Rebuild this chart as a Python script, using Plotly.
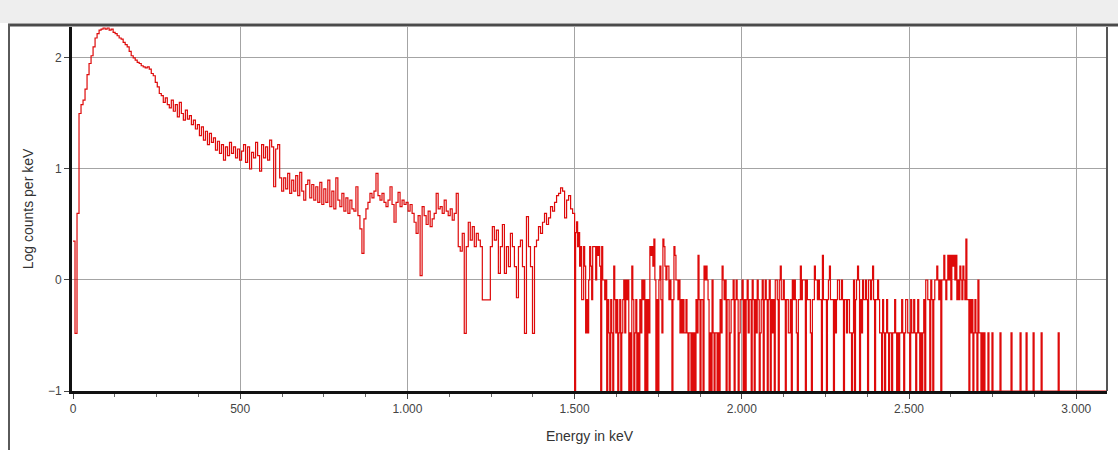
import math
import plotly.graph_objects as go

# ---------------- data ----------------
# Low-energy part: log10(counts per keV), one value every 6 keV from 0 keV
LOW_STEP_KEV = 6
LOW_LOG = [
    0.35, -0.48, 0.6, 1.5, 1.58, 1.62, 1.72, 1.85, 1.95, 2.02,
    2.1, 2.18, 2.22, 2.25, 2.26, 2.27, 2.26, 2.27, 2.25, 2.26,
    2.23, 2.22, 2.2, 2.18, 2.17, 2.14, 2.12, 2.1, 2.06, 2.02,
    2.0, 1.98, 1.96, 1.95, 1.93, 1.92, 1.91, 1.92, 1.9, 1.86,
    1.84, 1.78, 1.74, 1.68, 1.66, 1.6, 1.64, 1.58, 1.55, 1.62,
    1.52, 1.58, 1.47, 1.6, 1.5, 1.44, 1.53, 1.45, 1.48, 1.4,
    1.44, 1.36, 1.4, 1.3, 1.38, 1.26, 1.34, 1.22, 1.32, 1.24,
    1.28, 1.17, 1.25, 1.14, 1.22, 1.08, 1.2, 1.12, 1.24, 1.14,
    1.2, 1.1, 1.18, 1.08, 1.16, 1.22, 1.06, 1.2, 1.0, 1.15,
    1.1, 1.24, 1.12, 0.98, 1.22, 1.1, 1.2, 1.08, 1.26, 1.2,
    0.84, 1.18, 1.22, 0.92, 0.8, 0.92, 0.82, 0.96, 0.78, 0.9,
    0.8, 0.94, 0.76, 0.97, 0.8, 0.72, 0.86, 0.9, 0.74, 0.86,
    0.72, 0.84, 0.7, 0.88, 0.68, 0.82, 0.7, 0.9, 0.66, 0.8,
    0.64, 0.92, 0.72, 0.66, 0.78, 0.62, 0.74, 0.6, 0.72, 0.64,
    0.62, 0.84, 0.58, 0.46, 0.24, 0.55, 0.64, 0.7, 0.78, 0.74,
    0.8, 0.96, 0.76, 0.72, 0.78, 0.7, 0.66, 0.72, 0.84, 0.68,
    0.52, 0.7, 0.79, 0.66, 0.72, 0.68, 0.7, 0.62, 0.68, 0.6,
    0.52, 0.42, 0.58, 0.04, 0.66, 0.58, 0.5, 0.62, 0.48, 0.55,
    0.6, 0.78, 0.64, 0.66, 0.6, 0.72, 0.62, 0.58, 0.64, 0.54,
    0.6, 0.78, 0.3, 0.26, 0.42, -0.48, 0.3, 0.52, 0.36, 0.48,
    0.3, 0.42, 0.36, 0.3, -0.18, -0.18, -0.18, -0.18, 0.3, 0.48,
    0.36, 0.45, 0.06, 0.3, 0.5, 0.06, 0.3, 0.12, 0.42, 0.3,
    0.12, -0.16, 0.3, 0.36, 0.12, -0.48, 0.57, 0.3, 0.12, -0.48,
    0.3, 0.36, 0.48, 0.42, 0.52, 0.6, 0.5, 0.56, 0.66, 0.62,
    0.7, 0.76, 0.78, 0.83, 0.8, 0.56, 0.72, 0.76, 0.64, 0.6,
]

# High-energy part: raw counts per 3 keV channel, starting at 1500 keV
HIGH_START_KEV = 1500
CHANNEL_KEV = 3
HIGH_COUNTS_A = [0, 8, 10, 6, 8, 4, 6, 2, 2, 6, 4, 1, 2, 1, 3, 6, 4, 2, 6, 6, 6, 3]
HIGH_COUNTS_B = [
    6, 5, 6, 4, 0, 6, 3, 3, 2, 3,  0, 2, 1, 0, 2, 1, 0, 4, 2, 1,
    2, 0, 1, 2, 0, 1, 2, 3, 1, 3,  2, 3, 0, 1, 0, 4, 2, 0, 1, 2,
    0, 1, 0, 2, 1, 3, 2, 3, 0, 2,  0, 2, 1, 6, 5, 6, 4, 7, 3, 0,
    2, 0, 3, 4, 2, 1, 7, 6, 4, 3,  4, 4, 2, 3, 2, 0, 2, 6, 5, 3,
    3, 2, 3, 1, 2, 1, 2, 1, 1, 2,  1, 0, 1, 1, 0, 1, 0, 1, 0, 2,
    1, 5, 2, 0, 2, 2, 0, 4, 3, 4,  3, 2, 0, 1, 0, 3, 1, 0, 1, 1,
    0, 1, 0, 2, 1, 4, 3, 2, 3, 0,  2, 2, 0, 1, 2, 2, 3, 0, 2, 3,
    2, 0, 1, 2, 2, 3, 0, 2, 0, 2,  3, 1, 2, 2, 0, 3, 2, 0, 2, 1,
    3, 2, 0, 1, 2, 3, 0, 2, 3, 2,  0, 2, 3, 0, 2,
]
HIGH_COUNTS_C = [
    1, 2, 0, 3, 3, 2, 0, 3, 4, 2,  2, 3, 2, 0, 2, 2, 1, 1, 2, 0,
    3, 2, 3, 2, 1, 0, 2, 2, 4, 2,  3, 3, 3, 0, 3, 2, 2, 2, 1, 0,
    2, 2, 4, 3, 3, 2, 3, 2, 2, 0,  5, 2, 2, 2, 0, 2, 3, 4, 2, 2,
    2, 0, 2, 1, 2, 3, 3, 2, 2, 3,  2, 0, 2, 2, 1, 2, 2, 1, 1, 0,
    1, 3, 0, 2, 3, 4, 3, 0, 2, 1,  3, 2, 2, 3, 2, 0, 3, 3, 2, 3,
    4, 2, 0, 2, 2, 3, 2, 1, 1, 0,  2, 1, 0, 1, 2, 1, 0, 1, 1, 0,
    1, 1, 2, 1, 0, 1, 0, 1, 1, 2,  1, 0, 1, 2, 2, 1, 1, 0, 2, 1,
    1, 2, 1, 0, 1, 2, 1, 0, 1, 0,  1, 2, 0, 3, 3, 2, 2, 0, 3, 2,
    0, 2, 3, 3, 4, 3, 2, 3, 0, 3,  3, 5, 3, 2, 3,
]
HIGH_COUNTS_D = [
    5, 3, 5, 2, 5, 4, 5, 3, 5, 2,  3, 2, 4, 3, 2, 4, 3, 2, 7, 2,
    2, 0, 2, 1, 2, 0, 1, 2, 1, 0,  3, 1, 1, 0, 1,
]
# sparse single counts in the tail (keV, counts)
TAIL_ENERGY = [2724, 2736, 2748, 2772, 2805, 2832, 2850, 2871, 2895, 2946]
TAIL_COUNTS = [1, 1, 1, 1, 1, 1, 1, 1, 1, 1]
SPECTRUM_END_KEV = 3092
FLOOR = -1.0  # value shown for empty channels

X_TICKS = [0, 500, 1000, 1500, 2000, 2500, 3000]
X_TICK_TEXT = ["0", "500", "1.000", "1.500", "2.000", "2.500", "3.000"]
Y_TICKS = [-1, 0, 1, 2]

# ---------------- build the spectrum ----------------
xs, ys = [], []
for i, v in enumerate(LOW_LOG):
    xs.append(i * LOW_STEP_KEV)
    ys.append(v)

high_counts = HIGH_COUNTS_A + HIGH_COUNTS_B + HIGH_COUNTS_C + HIGH_COUNTS_D
tail = dict(zip(TAIL_ENERGY, TAIL_COUNTS))
e = HIGH_START_KEV
for c in high_counts:
    xs.append(e)
    ys.append(math.log10(c / CHANNEL_KEV) if c > 0 else FLOOR)
    e += CHANNEL_KEV
while e < SPECTRUM_END_KEV:
    c = tail.get(e, 0)
    xs.append(e)
    ys.append(math.log10(c / CHANNEL_KEV) if c > 0 else FLOOR)
    e += CHANNEL_KEV
xs.append(SPECTRUM_END_KEV)
ys.append(FLOOR)

# ---------------- figure ----------------
W, H = 1118, 450
ML, MR, MT, MB = 72, 11, 27, 59
PW, PH = W - ML - MR, H - MT - MB


def px(x):
    return (x - ML) / PW


def py(y):
    return (H - MB - y) / PH


fig = go.Figure()
fig.add_trace(go.Scatter(
    x=xs, y=ys, mode="lines", line_shape="hv",
    line=dict(color="rgb(222,10,10)", width=1.2),
    hoverinfo="skip",
))

font = "Liberation Sans, Arial, sans-serif"
fig.update_layout(
    width=W, height=H,
    margin=dict(l=ML, r=MR, t=MT, b=MB),
    paper_bgcolor="white", plot_bgcolor="white",
    showlegend=False,
    font=dict(family=font, size=12, color="#3a3a3a"),
    xaxis=dict(
        range=[-3, SPECTRUM_END_KEV],
        automargin=False,
        tickvals=X_TICKS, ticktext=X_TICK_TEXT,
        showgrid=True, gridcolor="#a4a4a4", gridwidth=1,
        zeroline=False,
        showline=True, linecolor="#111111", linewidth=3,
        ticks="outside", ticklen=5, tickcolor="#444", tickwidth=1,
        minor=dict(tick0=0, dtick=125, ticks="outside", ticklen=3,
                   tickcolor="#666", showgrid=False),
        tickfont=dict(size=12, color="#444"),
        title=dict(text="Energy in keV", font=dict(size=14, color="#333"), standoff=16),
    ),
    yaxis=dict(
        range=[-1, 2.279],
        automargin=False,
        tickvals=Y_TICKS,
        showgrid=True, gridcolor="#a4a4a4", gridwidth=1,
        zeroline=False,
        showline=True, linecolor="#111111", linewidth=3,
        ticks="outside", ticklen=5, tickcolor="#444", tickwidth=1,
        tickfont=dict(size=12, color="#444"),
        title=dict(text="Log counts per keV", font=dict(size=14, color="#333"), standoff=12),
    ),
    shapes=[
        dict(type="rect", xref="paper", yref="paper",
             x0=px(0), x1=px(W), y0=py(23), y1=py(0),
             fillcolor="#eeeeee", line=dict(width=0), layer="below"),
        dict(type="line", xref="paper", yref="paper",
             x0=px(8), x1=px(W), y0=py(25), y1=py(25),
             line=dict(color="#4a4a4a", width=3)),
        dict(type="line", xref="paper", yref="paper",
             x0=px(9), x1=px(9), y0=py(24), y1=py(H),
             line=dict(color="#5a5a5a", width=2)),
        dict(type="line", xref="paper", yref="paper",
             x0=px(1107), x1=px(1107), y0=py(27), y1=py(391),
             line=dict(color="#555555", width=2)),
    ],
)

fig.write_html("out.html")
